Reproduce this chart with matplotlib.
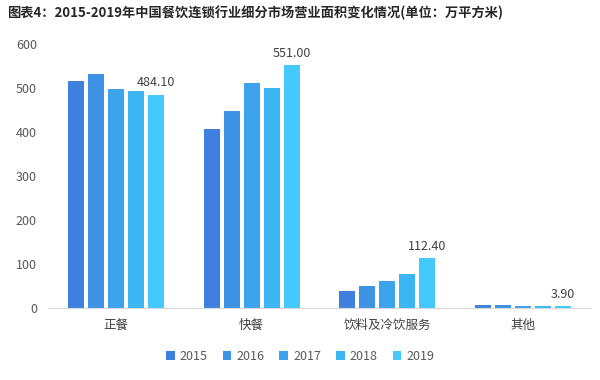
import matplotlib
matplotlib.use("Agg")
import matplotlib.pyplot as plt
import numpy as np

plt.rcParams['font.family'] = ['Noto Sans CJK SC', 'DejaVu Sans']

categories = ['正餐', '快餐', '饮料及冷饮服务', '其他']
years = ['2015', '2016', '2017', '2018', '2019']
values = {
    '2015': [516, 406, 39, 7],
    '2016': [531, 447, 50, 7],
    '2017': [498, 511, 60, 5],
    '2018': [492, 500, 76, 4],
    '2019': [484.10, 551.00, 112.40, 3.90],
}
colors = ['#3F80DE', '#3E92E3', '#3DA3EC', '#3CB5F3', '#45C9FC']
title = '图表4：2015-2019年中国餐饮连锁行业细分市场营业面积变化情况(单位：万平方米)'

fig = plt.figure(figsize=(6, 3.8), dpi=100)
ax = fig.add_axes([0.08, 0.19, 0.905, 0.695])

x = np.arange(len(categories))
slot = 0.147
width = 0.118
for i, y in enumerate(years):
    pos = x + (i - 2) * slot
    ax.bar(pos, values[y], width=width, color=colors[i], label=y, zorder=2)
    if y == '2019':
        for p, v in zip(pos, values[y]):
            ax.text(p, v + 12, f'{v:.2f}', ha='center', va='bottom',
                    fontsize=9, color='#404040')

ax.set_ylim(0, 600)
ax.set_xlim(-0.5, 3.5)
ax.set_yticks(range(0, 601, 100))
ax.set_xticks(x)
ax.set_xticklabels(categories, fontsize=9, color='#404040')
ax.tick_params(axis='y', labelsize=9, colors='#595959', length=0, pad=8)
ax.tick_params(axis='x', length=0, pad=8)
for s in ['top', 'right', 'left']:
    ax.spines[s].set_visible(False)
ax.spines['bottom'].set_color('#D9D9D9')

fig.text(0.012, 0.965, title, fontsize=9.5, fontweight='bold', color='#262626',
         ha='left', va='center')

leg = fig.legend(loc='center', bbox_to_anchor=(0.5, 0.063), ncol=5, frameon=False,
                 fontsize=9, handlelength=0.7, handleheight=0.7, handletextpad=0.4,
                 columnspacing=1.2)
for t in leg.get_texts():
    t.set_color('#595959')

fig.savefig('out.png', dpi=100)
